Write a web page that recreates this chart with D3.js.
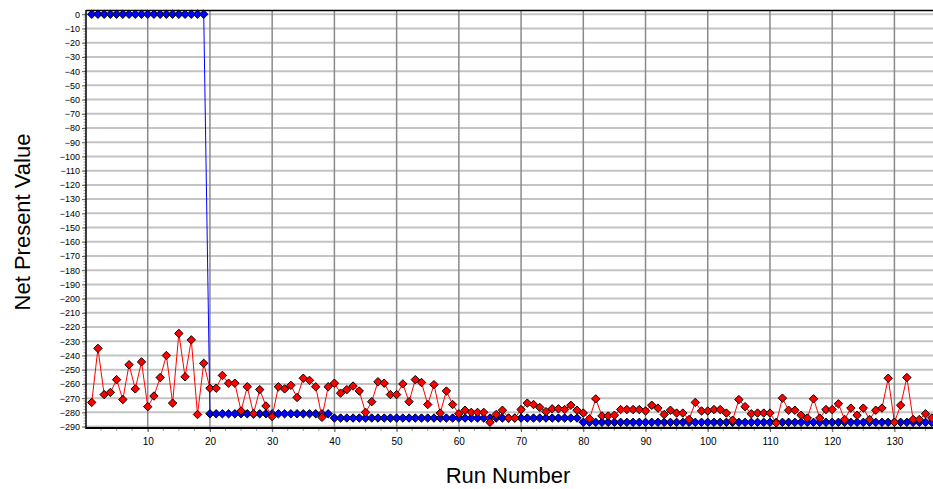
<!DOCTYPE html>
<html>
<head>
<meta charset="utf-8">
<script src="https://cdn.jsdelivr.net/npm/d3@7"></script>
<style>
  html, body { margin: 0; padding: 0; background: #fff; }
  svg { display: block; font-family: "Liberation Sans", Arial, sans-serif; }
</style>
</head>
<body>
<svg id="chart" width="933" height="489"></svg>
<script>
// Net present value per run: the optimised bound (blue) and the sampled value (red)
const boundNPV = [
  0, 0, 0, 0, 0, 0, 0, 0, 0, 0, 0, 0, 0, 0, 0, 0, 0, 0, 0,
  -281, -281, -281, -281, -281, -281, -281, -281, -281, -281,
  -281, -281, -281, -281, -281, -281, -281, -281, -281, -281,
  -284, -284, -284, -284, -284, -284, -284, -284, -284, -284,
  -284, -284, -284, -284, -284, -284, -284, -284, -284, -284,
  -284, -284, -284, -284, -284, -284, -284, -284, -284, -284,
  -284, -284, -284, -284, -284, -284, -284, -284, -284, -284,
  -287, -287, -287, -287, -287, -287, -287, -287, -287, -287,
  -287, -287, -287, -287, -287, -287, -287, -287, -287, -287,
  -287, -287, -287, -287, -287, -287, -287, -287, -287, -287,
  -287, -287, -287, -287, -287, -287, -287, -287, -287, -287,
  -287, -287, -287, -287, -287, -287, -287, -287, -287, -287,
  -287, -287, -287, -287, -287, -287, -287
];

const sampleNPV = [
  -273, -235, -267.5, -266, -257, -271, -246.5, -263.5, -244.5, -276,
  -268.5, -255.5, -240, -273.5, -224.5, -255, -229, -281.5, -245.5, -263,
  -263, -254, -259.5, -259.5, -279, -262, -281, -264, -275.5, -283,
  -262, -263.5, -261, -269.5, -256, -257.5, -262, -283.5, -262, -259.5,
  -266.5, -264, -261.5, -265, -280, -272.5, -258.5, -259.5, -267.5, -267.5,
  -260, -272.5, -257, -259, -274.5, -260.5, -280.5, -265, -274.5, -281,
  -278.5, -280, -280, -280, -287, -281.5, -278.5, -284, -284, -278,
  -273.5, -274.5, -276.5, -279.5, -277.5, -277.5, -278, -275, -278.5, -280.5,
  -284.5, -270.5, -282.5, -282.5, -282, -278, -278, -278, -278, -279,
  -275, -277, -281.5, -278.5, -280.5, -280.5, -285, -273, -279, -279,
  -278, -278, -280.5, -285.5, -271, -276, -281, -280.5, -280.5, -280.5,
  -287.5, -270, -278.5, -278.5, -282, -284, -270.5, -284, -278, -278,
  -274, -285, -277, -282, -277, -285, -278.5, -277, -256, -287,
  -275, -255.5, -285, -285, -281, -284
];

const xTickValues = [10, 20, 30, 40, 50, 60, 70, 80, 90, 100, 110, 120, 130];
const yTickValues = [0, -10, -20, -30, -40, -50, -60, -70, -80, -90, -100,
  -110, -120, -130, -140, -150, -160, -170, -180, -190, -200, -210, -220,
  -230, -240, -250, -260, -270, -280, -290];

const xTitle = "Run Number";
const yTitle = "Net Present Value";

const svg = d3.select("#chart");
const plotLeft = 86, plotRight = 933, plotTop = 10, plotBottom = 428;

const x = d3.scaleLinear().domain([0, 136.2]).range([85.5, 933]);
const y = d3.scaleLinear().domain([3, -291]).range([plotTop, plotBottom]);

svg.append("defs").append("clipPath").attr("id", "plotClip")
  .append("rect").attr("x", plotLeft).attr("y", plotTop - 6)
  .attr("width", plotRight - plotLeft).attr("height", plotBottom - plotTop + 6);

// horizontal grid
svg.append("g").selectAll("line").data(yTickValues).join("line")
  .attr("x1", plotLeft).attr("x2", plotRight)
  .attr("y1", d => y(d)).attr("y2", d => y(d))
  .attr("stroke", "#c4c4c4").attr("stroke-width", 2);

// vertical grid
svg.append("g").selectAll("line").data(xTickValues).join("line")
  .attr("x1", d => x(d)).attr("x2", d => x(d))
  .attr("y1", plotTop).attr("y2", plotBottom)
  .attr("stroke", "#8a8a8a").attr("stroke-width", 1.5);

// top border
svg.append("line").attr("x1", plotLeft).attr("x2", plotRight)
  .attr("y1", plotTop + 0.5).attr("y2", plotTop + 0.5)
  .attr("stroke", "#000").attr("stroke-width", 1.5);

// y axis
const yMinor = d3.range(0, -292, -2);
const yAxis = d3.axisLeft(y).tickValues(yTickValues).tickSize(4).tickPadding(2)
  .tickFormat(d3.format("d"));
const gy = svg.append("g").attr("transform", `translate(${plotLeft},0)`).call(yAxis);
gy.select(".domain").remove();
gy.selectAll(".tick line").attr("stroke", "#555");
gy.selectAll("text").attr("font-size", 9).attr("fill", "#000")
  .attr("font-family", "Liberation Sans, Arial, sans-serif");
gy.append("g").selectAll("line").data(yMinor).join("line")
  .attr("x1", -2.5).attr("x2", 0)
  .attr("y1", d => y(d)).attr("y2", d => y(d))
  .attr("stroke", "#888").attr("stroke-width", 0.8);

// x axis
const xMinor = d3.range(2.5, 136, 2.5);
const xAxis = d3.axisBottom(x).tickValues(xTickValues).tickSize(4).tickPadding(6)
  .tickFormat(d3.format("d"));
const gx = svg.append("g").attr("transform", `translate(0,${plotBottom})`).call(xAxis);
gx.select(".domain").remove();
gx.selectAll(".tick line").attr("stroke", "#555");
gx.selectAll("text").attr("font-size", 10).attr("fill", "#000")
  .attr("font-family", "Liberation Sans, Arial, sans-serif");
gx.append("g").selectAll("line").data(xMinor).join("line")
  .attr("x1", d => x(d)).attr("x2", d => x(d))
  .attr("y1", 0).attr("y2", 3)
  .attr("stroke", "#888").attr("stroke-width", 0.8);

// axis lines
svg.append("line").attr("x1", plotLeft).attr("x2", plotLeft)
  .attr("y1", plotTop).attr("y2", plotBottom + 1)
  .attr("stroke", "#000").attr("stroke-width", 1.5);
svg.append("line").attr("x1", plotLeft).attr("x2", plotRight)
  .attr("y1", plotBottom).attr("y2", plotBottom)
  .attr("stroke", "#000").attr("stroke-width", 2);

// series
const plot = svg.append("g").attr("clip-path", "url(#plotClip)");
const diamond = "M0,-4.2L4.2,0L0,4.2L-4.2,0Z";
const line = d3.line().x((d, i) => x(i + 1)).y(d => y(d));

function drawSeries(values, lineColor, fill) {
  plot.append("path").datum(values)
    .attr("d", line).attr("fill", "none")
    .attr("stroke", lineColor).attr("stroke-width", 1);
  plot.append("g").selectAll("path").data(values).join("path")
    .attr("d", diamond)
    .attr("transform", (d, i) => `translate(${x(i + 1)},${y(d)})`)
    .attr("fill", fill).attr("stroke", "#000").attr("stroke-width", 1);
}

drawSeries(boundNPV, "#0000ff", "#0000ff");
drawSeries(sampleNPV, "#ff0000", "#ff0000");

// titles
svg.append("text").attr("x", 508).attr("y", 483)
  .attr("text-anchor", "middle").attr("font-size", 22).text(xTitle);
svg.append("text")
  .attr("transform", "translate(30,222) rotate(-90)")
  .attr("text-anchor", "middle").attr("font-size", 22).text(yTitle);
</script>
</body>
</html>
